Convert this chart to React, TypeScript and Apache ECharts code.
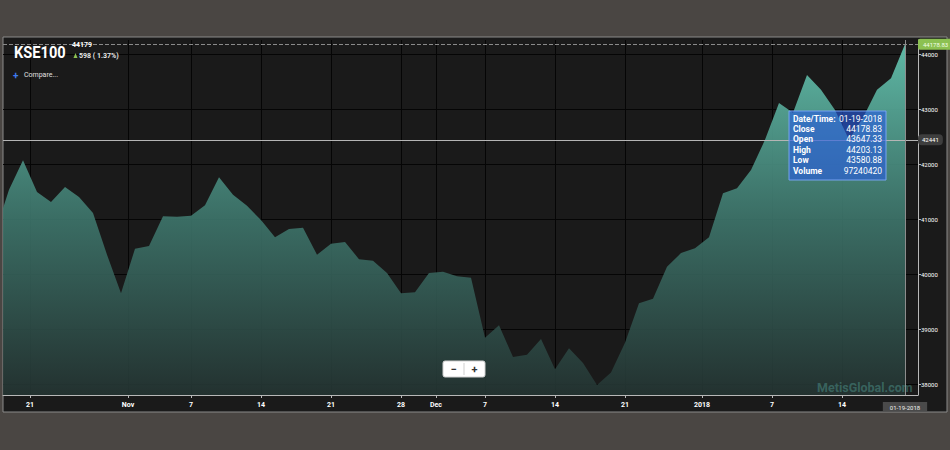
import React, { useEffect, useRef } from "react";
import * as echarts from "echarts";

// ---- data ----
const dates = [
  "10-18-2017", "10-19-2017", "10-20-2017", "10-23-2017", "10-24-2017", "10-25-2017", "10-26-2017", "10-27-2017", "10-30-2017", "10-31-2017",
  "11-01-2017", "11-02-2017", "11-03-2017", "11-06-2017", "11-07-2017", "11-08-2017", "11-09-2017", "11-10-2017", "11-13-2017", "11-14-2017",
  "11-15-2017", "11-16-2017", "11-17-2017", "11-20-2017", "11-21-2017", "11-22-2017", "11-23-2017", "11-24-2017", "11-27-2017", "11-28-2017",
  "11-29-2017", "11-30-2017", "12-04-2017", "12-05-2017", "12-06-2017", "12-07-2017", "12-08-2017", "12-11-2017", "12-12-2017", "12-13-2017",
  "12-14-2017", "12-15-2017", "12-18-2017", "12-19-2017", "12-20-2017", "12-21-2017", "12-22-2017", "12-26-2017", "12-27-2017", "12-28-2017",
  "12-29-2017", "01-01-2018", "01-02-2018", "01-03-2018", "01-04-2018", "01-05-2018", "01-08-2018", "01-09-2018", "01-10-2018", "01-11-2018",
  "01-12-2018", "01-15-2018", "01-16-2018", "01-17-2018", "01-18-2018", "01-19-2018",
];

const closeValues = [
  40750, 41530, 42070, 41490, 41310, 41580, 41400, 41110, 40350, 39650,
  40460, 40510, 41050, 41040, 41060, 41250, 41760, 41440, 41240, 40980,
  40670, 40820, 40840, 40350, 40550, 40580, 40270, 40240, 40020, 39650,
  39670, 40020, 40040, 39960, 39930, 38840, 39070, 38490, 38530, 38820,
  38270, 38650, 38380, 37980, 38210, 38750, 39470, 39550, 40130, 40380,
  40470, 40670, 41470, 41560, 41890, 42440, 43110, 42930, 43620, 43350,
  42980, 42440, 42840, 43350, 43560, 44178.83,
];

// x tick positions (in trading-day index units) and their labels
const xTickPositions = [2.5, 9.5, 14, 19, 24, 29, 31.5, 35, 40, 45, 50.5, 55.5, 60.5];
const xTickLabels = ["21", "Nov", "7", "14", "21", "28", "Dec", "7", "14", "21", "2018", "7", "14"];

const yTicks = [38000, 39000, 40000, 41000, 42000, 43000, 44000];

const crosshairValue = 42441;
const lastCloseLabel = "44178.83";

const tooltipLabels = ["Date/Time:", "Close", "Open", "High", "Low", "Volume"];
const tooltipValues = ["01-19-2018", "44178.83", "43647.33", "44203.13", "43580.88", "97240420"];

const titleText = "KSE100";
const lastPriceText = "44179";
const changeText = "598 ( 1.37%)";
const compareText = "Compare...";
const watermarkText = "MetisGlobal.com";

const TOP = 100;

export default function App() {
  const ref = useRef<HTMLDivElement>(null);

  useEffect(() => {
    document.body.style.margin = "0";
    const chart = echarts.init(ref.current as HTMLDivElement, null, { renderer: "svg" });
    const lastIndex = closeValues.length - 1;

    const tooltipChildren: any[] = [
      {
        type: "rect",
        z: TOP,
        shape: { x: 0, y: 0, width: 97, height: 69 },
        style: { fill: "rgba(40,92,225,0.62)", stroke: "rgba(120,165,245,0.95)", lineWidth: 1 },
      },
    ];
    tooltipLabels.forEach((lab, i) => {
      const y = 7.5 + i * 10.4;
      tooltipChildren.push({
        type: "text",
        z: TOP + 1,
        style: { text: lab, x: 4, y, fill: "#ffffff", font: "bold 8.5px Roboto", textVerticalAlign: "middle", textAlign: "left" },
      });
      tooltipChildren.push({
        type: "text",
        z: TOP + 1,
        style: { text: tooltipValues[i], x: 93, y, fill: "#ffffff", font: "8.5px Roboto", textVerticalAlign: "middle", textAlign: "right" },
      });
    });

    const option: any = {
      animation: false,
      backgroundColor: "#4a4643",
      grid: { left: 3, right: 32, top: 40, bottom: 55, containLabel: false },
      xAxis: {
        type: "value",
        min: 1 - 6 / 14,
        max: lastIndex + 13 / 14,
        position: "bottom",
        axisLine: { show: true, lineStyle: { color: "#b8b8b8", width: 1 } },
        axisTick: { show: true, customValues: xTickPositions, length: 3, lineStyle: { color: "#b8b8b8" } },
        axisLabel: {
          customValues: xTickPositions,
          color: "#ffffff",
          fontSize: 7,
          fontWeight: "bold",
          fontFamily: "Roboto",
          margin: 6,
          formatter: (v: number) => {
            const k = xTickPositions.findIndex((p) => Math.abs(p - v) < 0.01);
            return k >= 0 ? xTickLabels[k] : "";
          },
        },
        splitLine: { show: true, lineStyle: { color: "#050505", width: 1 } },
      },
      yAxis: {
        type: "value",
        position: "right",
        min: 37800,
        max: 44255,
        axisLine: { show: true, lineStyle: { color: "#b8b8b8", width: 1 } },
        axisTick: { show: true, customValues: yTicks, length: 3, lineStyle: { color: "#b8b8b8" } },
        axisLabel: {
          customValues: yTicks,
          color: "#ffffff",
          fontSize: 6,
          fontFamily: "Roboto",
          margin: 3,
          formatter: (v: number) => String(Math.round(v)),
        },
        splitLine: { show: true, lineStyle: { color: "#050505", width: 1 } },
      },
      series: [
        {
          type: "line",
          z: 2,
          data: closeValues.map((v, i) => [i, v]),
          symbol: "none",
          clip: true,
          lineStyle: { width: 0 },
          areaStyle: {
            opacity: 1,
            color: new echarts.graphic.LinearGradient(0, 0, 0, 1, [
              { offset: 0, color: "rgba(98,192,172,0.95)" },
              { offset: 0.5, color: "rgba(62,118,108,0.9)" },
              { offset: 1, color: "rgba(36,52,50,0.9)" },
            ]),
          },
          markLine: {
            silent: true,
            symbol: ["none", "none"],
            animation: false,
            data: [
              {
                yAxis: closeValues[lastIndex],
                lineStyle: { type: "dashed", color: "#8a8a8a", width: 1 },
                label: {
                  position: "end",
                  distance: 0,
                  formatter: lastCloseLabel,
                  color: "#f2ffe6",
                  fontSize: 6,
                  fontFamily: "Roboto",
                  backgroundColor: "#8cc152",
                  padding: [3, 4, 2, 5],
                  borderRadius: 2,
                },
              },
              {
                yAxis: crosshairValue,
                lineStyle: { type: "solid", color: "#b5b5b5", width: 1 },
                label: {
                  position: "end",
                  distance: 0,
                  formatter: String(crosshairValue),
                  color: "#ffffff",
                  fontSize: 6,
                  fontFamily: "Roboto",
                  backgroundColor: "#3e3e3e",
                  padding: [3, 4, 2, 4],
                  borderRadius: 4,
                },
              },
              {
                xAxis: lastIndex,
                lineStyle: { type: "solid", color: "#8d8d8d", width: 1 },
                label: {
                  position: "start",
                  distance: 7,
                  formatter: dates[lastIndex],
                  color: "#eeeeee",
                  fontSize: 6,
                  fontFamily: "Roboto",
                  backgroundColor: "#4a4a4a",
                  padding: [2, 7, 1, 7],
                },
              },
            ],
          },
        },
      ],
      graphic: [
        {
          type: "rect",
          z: -10,
          shape: { x: 3, y: 37, width: 944, height: 375 },
          style: { fill: "#1a1a1a", stroke: "#8a8a8a", lineWidth: 1 },
        },
        {
          type: "text",
          z: TOP,
          x: 14,
          y: 52,
          scaleX: 0.86,
          style: { text: titleText, x: 0, y: 0, fill: "#ffffff", font: "bold 17px Roboto", textVerticalAlign: "middle" },
        },
        {
          type: "text",
          z: TOP,
          style: { text: lastPriceText, x: 72, y: 45, fill: "#ffffff", font: "bold 7px Roboto", textVerticalAlign: "middle" },
        },
        {
          type: "polygon",
          z: TOP,
          shape: { points: [[73.5, 58], [75.5, 53], [77.5, 58]] },
          style: { fill: "#8cc152" },
        },
        {
          type: "text",
          z: TOP,
          style: { text: changeText, x: 79, y: 56, fill: "#e8e8e8", font: "bold 7px Roboto", textVerticalAlign: "middle" },
        },
        {
          type: "text",
          z: TOP,
          style: { text: "+", x: 13, y: 75, fill: "#3f7cf0", font: "bold 10px Roboto", textVerticalAlign: "middle" },
        },
        {
          type: "text",
          z: TOP,
          style: { text: compareText, x: 24, y: 75, fill: "#e0e0e0", font: "7px Roboto", textVerticalAlign: "middle" },
        },
        {
          type: "text",
          z: TOP,
          style: { text: watermarkText, x: 817, y: 387, fill: "rgba(90,175,165,0.4)", font: "bold 12.5px Roboto", textVerticalAlign: "middle" },
        },
        {
          type: "group",
          x: 443,
          y: 361,
          children: [
            { type: "rect", z: TOP, shape: { x: 0, y: 0, width: 42, height: 16, r: 2 }, style: { fill: "#ffffff", stroke: "#d0d0d0" } },
            { type: "line", z: TOP + 1, shape: { x1: 21, y1: 2, x2: 21, y2: 14 }, style: { stroke: "#cfcfcf", lineWidth: 1 } },
            { type: "text", z: TOP + 1, style: { text: "−", x: 10.5, y: 8, fill: "#333333", font: "bold 11px Roboto", textAlign: "center", textVerticalAlign: "middle" } },
            { type: "text", z: TOP + 1, style: { text: "+", x: 31.5, y: 8, fill: "#333333", font: "bold 11px Roboto", textAlign: "center", textVerticalAlign: "middle" } },
          ],
        },
        {
          type: "group",
          x: 789,
          y: 111,
          children: tooltipChildren,
        },
      ],
    };

    chart.setOption(option);
    return () => chart.dispose();
  }, []);

  return <div ref={ref} style={{ width: 950, height: 450 }} />;
}
